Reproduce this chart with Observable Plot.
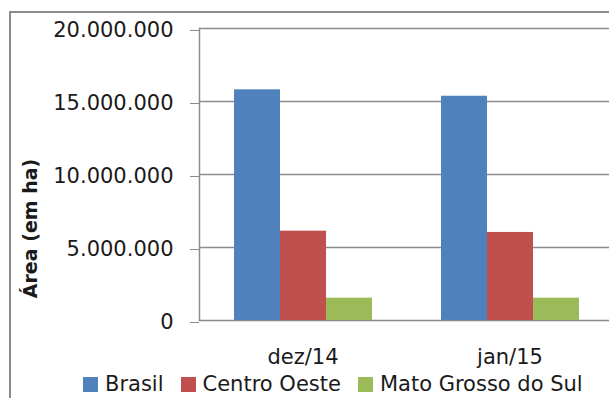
<!DOCTYPE html>
<html>
<head>
<meta charset="utf-8">
<script src="https://cdn.jsdelivr.net/npm/d3@7"></script>
<script src="https://cdn.jsdelivr.net/npm/@observablehq/plot@0.6"></script>
<style>
  html, body { margin: 0; padding: 0; background: #fff; }
  body { width: 609px; height: 398px; overflow: hidden; position: relative; font-family: "DejaVu Sans", sans-serif; }
  #frame { position: absolute; left: 9px; top: 11px; width: 800px; height: 600px; border-left: 2px solid #8c8c8c; border-top: 2px solid #8c8c8c; box-sizing: border-box; }
  #chart { position: absolute; left: 0; top: 0; }
  #legend { position: absolute; left: 83px; top: 372px; height: 24px; display: flex; align-items: center; font-size: 21px; color: #1a1a1a; white-space: nowrap; }
  #legend .item { display: flex; align-items: center; margin-right: 17px; }
  #legend .sw { width: 15px; height: 15px; margin-right: 7px; }
</style>
</head>
<body>
<div id="frame"></div>
<div id="chart"></div>
<div id="legend"></div>
<script>
const months = ["dez/14", "jan/15"];
const series = ["Brasil", "Centro Oeste", "Mato Grosso do Sul"];
const colors = ["#4F81BD", "#C0504D", "#9BBB59"];
const brasil = [15800000, 15360000];
const centroOeste = [6120000, 6030000];
const matoGrossoDoSul = [1530000, 1530000];
const yTicks = [0, 5000000, 10000000, 15000000, 20000000];
const yLabel = "Área (em ha)";

const valuesBySeries = [brasil, centroOeste, matoGrossoDoSul];
const data = [];
months.forEach((m, i) => series.forEach((s, j) => data.push({ month: m, series: s, value: valuesBySeries[j][i] })));

const fmt = d3.formatLocale({ decimal: ",", thousands: ".", grouping: [3], currency: ["R$", ""] }).format(",d");

const gray = "#8c8c8c";

const chart = Plot.plot({
  width: 609,
  height: 372,
  marginLeft: 199,
  marginRight: -4,
  marginTop: 28,
  marginBottom: 52,
  style: { fontFamily: "DejaVu Sans, sans-serif", fontSize: "20px", color: "#1a1a1a", background: "transparent", overflow: "visible" },
  fx: { domain: months, paddingInner: 0, paddingOuter: 0, axis: null },
  x: { domain: series, paddingInner: 0, paddingOuter: 0.75, axis: null },
  y: { domain: [0, 20000000], axis: null },
  color: { domain: series, range: colors },
  marks: [
    Plot.ruleY(yTicks, { stroke: gray, strokeWidth: 1.5 }),
    Plot.barY(data, { fx: "month", x: "series", y: "value", fill: "series" }),
    Plot.frame({ anchor: "left", stroke: gray, strokeWidth: 1.5, facetAnchor: "left" }),
    Plot.axisY({ ticks: yTicks, tickFormat: fmt, tickSize: 9, tickPadding: 17, stroke: gray, fill: "#1a1a1a", fontSize: 21, dy: 2, label: null, facetAnchor: "left" }),
    Plot.axisFx({ anchor: "bottom", tickSize: 0, tickPadding: 29, fontSize: 21, label: null }),
    Plot.text([yLabel], { frameAnchor: "left", textAnchor: "middle", rotate: -90, dx: -169, dy: 54, fontSize: 19, fontWeight: "bold", fill: "#1a1a1a", facetAnchor: "left" })
  ]
});
document.getElementById("chart").appendChild(chart);

const legend = document.getElementById("legend");
series.forEach((s, i) => {
  const item = document.createElement("div");
  item.className = "item";
  const sw = document.createElement("div");
  sw.className = "sw";
  sw.style.background = colors[i];
  const t = document.createElement("span");
  t.textContent = s;
  item.appendChild(sw);
  item.appendChild(t);
  legend.appendChild(item);
});
</script>
</body>
</html>
